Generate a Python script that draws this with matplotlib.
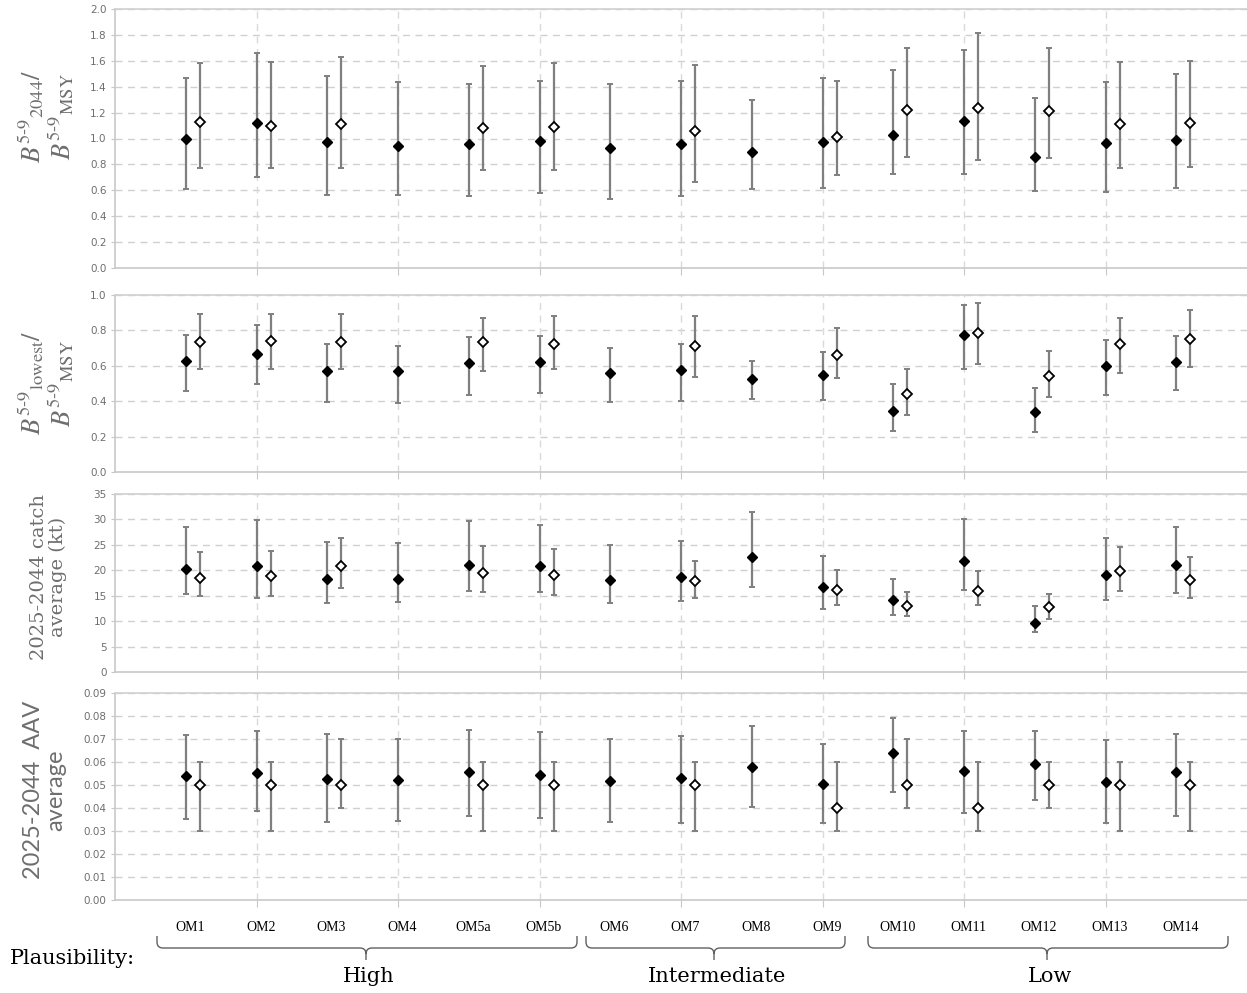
import matplotlib
matplotlib.use("Agg")
import matplotlib.pyplot as plt
import numpy as np
from matplotlib.path import Path
from matplotlib.patches import PathPatch
from matplotlib.transforms import blended_transform_factory

# ---------------- data ----------------
oms = ["OM1", "OM2", "OM3", "OM4", "OM5a", "OM5b", "OM6", "OM7", "OM8", "OM9",
       "OM10", "OM11", "OM12", "OM13", "OM14"]
# index of OMs that have a second (open) series
open_idx = [0, 1, 2, 4, 5, 7, 9, 10, 11, 12, 13, 14]

# Panel 1: B2044 / BMSY
p1_f_med = [1.00, 1.12, 0.97, 0.94, 0.955, 0.978, 0.927, 0.955, 0.898, 0.973, 1.027, 1.137, 0.855, 0.963, 0.986]
p1_f_lo  = [0.61, 0.70, 0.56, 0.56, 0.556, 0.58, 0.533, 0.556, 0.61, 0.62, 0.726, 0.726, 0.592, 0.587, 0.615]
p1_f_hi  = [1.47, 1.66, 1.48, 1.44, 1.42, 1.447, 1.42, 1.447, 1.295, 1.465, 1.527, 1.686, 1.315, 1.439, 1.496]
p1_o_med = [1.13, 1.10, 1.11, 1.08, 1.09, 1.058, 1.01, 1.222, 1.233, 1.212, 1.112, 1.122]
p1_o_lo  = [0.77, 0.77, 0.77, 0.757, 0.757, 0.667, 0.716, 0.86, 0.836, 0.849, 0.77, 0.78]
p1_o_hi  = [1.58, 1.59, 1.63, 1.56, 1.58, 1.568, 1.444, 1.70, 1.812, 1.70, 1.59, 1.60]

# Panel 2: Blowest / BMSY
p2_f_med = [0.627, 0.665, 0.57, 0.57, 0.614, 0.623, 0.559, 0.578, 0.525, 0.548, 0.343, 0.772, 0.339, 0.599, 0.623]
p2_f_lo  = [0.458, 0.495, 0.397, 0.39, 0.437, 0.448, 0.394, 0.401, 0.412, 0.405, 0.232, 0.58, 0.224, 0.437, 0.461]
p2_f_hi  = [0.774, 0.83, 0.725, 0.712, 0.763, 0.77, 0.702, 0.721, 0.627, 0.678, 0.495, 0.942, 0.476, 0.747, 0.77]
p2_o_med = [0.734, 0.742, 0.734, 0.734, 0.723, 0.71, 0.659, 0.439, 0.785, 0.541, 0.723, 0.753]
p2_o_lo  = [0.58, 0.58, 0.58, 0.572, 0.58, 0.538, 0.529, 0.322, 0.61, 0.422, 0.561, 0.591]
p2_o_hi  = [0.894, 0.894, 0.894, 0.87, 0.883, 0.883, 0.812, 0.58, 0.953, 0.682, 0.87, 0.913]

# Panel 3: average catch (kt)
p3_f_med = [20.3, 20.9, 18.2, 18.3, 21.1, 20.9, 18.0, 18.6, 22.7, 16.7, 14.1, 21.9, 9.7, 19.0, 21.0]
p3_f_lo  = [15.35, 14.6, 13.6, 13.7, 16.0, 15.8, 13.6, 14.0, 16.8, 12.4, 11.2, 16.2, 7.8, 14.2, 15.6]
p3_f_hi  = [28.5, 29.8, 25.6, 25.4, 29.6, 29.0, 24.9, 25.8, 31.5, 22.9, 18.2, 30.0, 13.0, 26.4, 28.6]
p3_o_med = [18.56, 18.9, 20.9, 19.4, 19.1, 17.9, 16.1, 13.0, 16.0, 12.7, 19.9, 18.0]
p3_o_lo  = [15.0, 15.0, 16.5, 15.8, 15.2, 14.6, 13.2, 11.0, 13.2, 10.5, 16.0, 14.6]
p3_o_hi  = [23.5, 23.7, 26.3, 24.7, 24.1, 21.9, 20.1, 15.8, 19.9, 15.4, 24.6, 22.6]

# Panel 4: AAV average
p4_f_med = [0.0539, 0.0553, 0.0526, 0.0523, 0.0555, 0.0545, 0.0518, 0.053, 0.0578, 0.0505, 0.064, 0.0563, 0.059, 0.0515, 0.0555]
p4_f_lo  = [0.0351, 0.0387, 0.034, 0.0344, 0.0365, 0.0355, 0.034, 0.0335, 0.0405, 0.0335, 0.047, 0.0378, 0.0433, 0.0333, 0.0365]
p4_f_hi  = [0.0716, 0.0734, 0.072, 0.0702, 0.074, 0.073, 0.070, 0.0715, 0.0755, 0.0678, 0.079, 0.0733, 0.0735, 0.0695, 0.0723]
p4_o_med = [0.05, 0.05, 0.05, 0.05, 0.05, 0.05, 0.04, 0.05, 0.04, 0.05, 0.05, 0.05]
p4_o_lo  = [0.03, 0.03, 0.04, 0.03, 0.03, 0.03, 0.03, 0.04, 0.03, 0.04, 0.03, 0.03]
p4_o_hi  = [0.06, 0.06, 0.07, 0.06, 0.06, 0.06, 0.06, 0.07, 0.06, 0.06, 0.06, 0.06]

groups = ["High", "Intermediate", "Low"]

# ---------------- style ----------------
plt.rcParams['mathtext.fontset'] = 'stix'
GRAY_TXT = "#6e6e6e"
GRID = "#d0d0d0"
SPINE = "#c8c8c8"
ERR = "#7f7f7f"

W, H = 1247, 993
fig = plt.figure(figsize=(W / 100, H / 100), dpi=100)

def fa(top, bottom, left=115, right=1247):
    return [left / W, 1 - bottom / H, (right - left) / W, (bottom - top) / H]

panels = [
    dict(rect=fa(9, 268), ylim=(0, 2.0), ticks=np.arange(0, 2.01, 0.2), fmt="{:.1f}",
         f=(p1_f_med, p1_f_lo, p1_f_hi), o=(p1_o_med, p1_o_lo, p1_o_hi)),
    dict(rect=fa(295, 472), ylim=(0, 1.0), ticks=np.arange(0, 1.01, 0.2), fmt="{:.1f}",
         f=(p2_f_med, p2_f_lo, p2_f_hi), o=(p2_o_med, p2_o_lo, p2_o_hi)),
    dict(rect=fa(494, 672), ylim=(0, 35), ticks=np.arange(0, 36, 5), fmt="{:.0f}",
         f=(p3_f_med, p3_f_lo, p3_f_hi), o=(p3_o_med, p3_o_lo, p3_o_hi)),
    dict(rect=fa(693, 900), ylim=(0, 0.09), ticks=np.arange(0, 0.0901, 0.01), fmt="{:.2f}",
         f=(p4_f_med, p4_f_lo, p4_f_hi), o=(p4_o_med, p4_o_lo, p4_o_hi)),
]

xf = np.arange(1, len(oms) + 1)
xo = np.array([xf[i] for i in open_idx]) + 0.2

axes = []
for p in panels:
    ax = fig.add_axes(p["rect"])
    axes.append(ax)
    ax.set_xlim(0, 16)
    ax.set_ylim(*p["ylim"])
    ax.set_yticks(p["ticks"])
    ax.set_yticklabels([p["fmt"].format(t) for t in p["ticks"]], fontsize=7.5, color=GRAY_TXT)
    ax.set_xticks(np.arange(2, 15, 2))
    ax.set_xticklabels([])
    ax.tick_params(axis='y', length=3, color=SPINE, pad=3)
    ax.tick_params(axis='x', length=5, color=SPINE, direction='out')
    for t in p["ticks"][1:]:
        ax.axhline(t, color=GRID, lw=1.0, ls=(0, (5, 4)), zorder=0)
    for xv in np.arange(2, 15, 2):
        ax.axvline(xv, color="#dadada", lw=1.0, ls=(0, (5, 4)), zorder=0)
    for s in ["left", "bottom", "top"]:
        ax.spines[s].set_color(SPINE)
        ax.spines[s].set_linewidth(1.2)
    ax.spines["right"].set_visible(False)
    ax.spines["top"].set_color(GRID)

    med, lo, hi = [np.array(a) for a in p["f"]]
    ax.errorbar(xf, med, yerr=[med - lo, hi - med], fmt='none', ecolor=ERR,
                elinewidth=1.6, capsize=2.5, capthick=1.4, zorder=2)
    ax.plot(xf, med, ls='none', marker='D', ms=5.5, mfc='black', mec='black', zorder=3)
    med, lo, hi = [np.array(a) for a in p["o"]]
    ax.errorbar(xo, med, yerr=[med - lo, hi - med], fmt='none', ecolor=ERR,
                elinewidth=1.6, capsize=2.5, capthick=1.4, zorder=2)
    ax.plot(xo, med, ls='none', marker='D', ms=5.5, mfc='white', mec='black', mew=1.3, zorder=3)

# y labels
fig.text(0.037, 1 - 116 / H, r"$B^{5\text{-}9}{}_{2044}/$" + "\n" + r"$B^{5\text{-}9}{}_{\mathrm{MSY}}$",
         rotation=90, ha='center', va='center', fontsize=19, color=GRAY_TXT,
         linespacing=1.0, multialignment='center')
fig.text(0.037, 1 - 383 / H, r"$B^{5\text{-}9}{}_{\mathrm{lowest}}/$" + "\n" + r"$B^{5\text{-}9}{}_{\mathrm{MSY}}$",
         rotation=90, ha='center', va='center', fontsize=19, color=GRAY_TXT,
         linespacing=1.0, multialignment='center')
fig.text(0.039, 1 - 577 / H, "2025-2044 catch\naverage (kt)", rotation=90, ha='center', va='center',
         fontsize=14, color=GRAY_TXT, family='DejaVu Serif', linespacing=1.05)
fig.text(0.036, 1 - 790 / H, "2025-2044  AAV\naverage", rotation=90, ha='center', va='center',
         fontsize=17, color=GRAY_TXT, family=['Lato', 'DejaVu Sans'], linespacing=1.05)

# OM labels below bottom axis
ax4 = axes[-1]
trans = blended_transform_factory(ax4.transData, ax4.transAxes)
for x, lab in zip(xf, oms):
    ax4.text(x + 0.06, -0.135, lab, transform=trans, ha='center', va='center',
             fontsize=10, family='Liberation Serif', color='black')

# Plausibility braces in pixel space overlay
ov = fig.add_axes([0, 0, 1, 1], zorder=-1)
ov.set_xlim(0, W)
ov.set_ylim(H, 0)
ov.axis('off')

def brace(x0, x1, xc, ytop=936, ymid=948, ytip=960, r=6):
    verts = [(x0, ytop), (x0, ymid - r), (x0, ymid), (x0 + r, ymid),
             (xc - r, ymid), (xc, ymid), (xc, ymid + r),
             (xc, ytip), (xc, ymid + r), (xc, ymid), (xc + r, ymid),
             (x1 - r, ymid), (x1, ymid), (x1, ymid - r), (x1, ytop)]
    codes = [Path.MOVETO, Path.LINETO, Path.CURVE3, Path.CURVE3,
             Path.LINETO, Path.CURVE3, Path.CURVE3,
             Path.LINETO, Path.MOVETO, Path.CURVE3, Path.CURVE3,
             Path.LINETO, Path.CURVE3, Path.CURVE3, Path.LINETO]
    ov.add_patch(PathPatch(Path(verts, codes), fc='none', ec='#606060', lw=1.0))

brace_spans = [(157, 577, 366), (586, 845, 714), (868, 1228, 1047)]
for (x0, x1, xc), g in zip(brace_spans, groups):
    brace(x0, x1, xc)
    ov.text(xc + 3, 977, g, ha='center', va='center', fontsize=15, family='DejaVu Serif', color='black')
ov.text(10, 958, "Plausibility:", ha='left', va='center', fontsize=15, family='DejaVu Serif', color='black')

fig.savefig("out.png", dpi=100)
